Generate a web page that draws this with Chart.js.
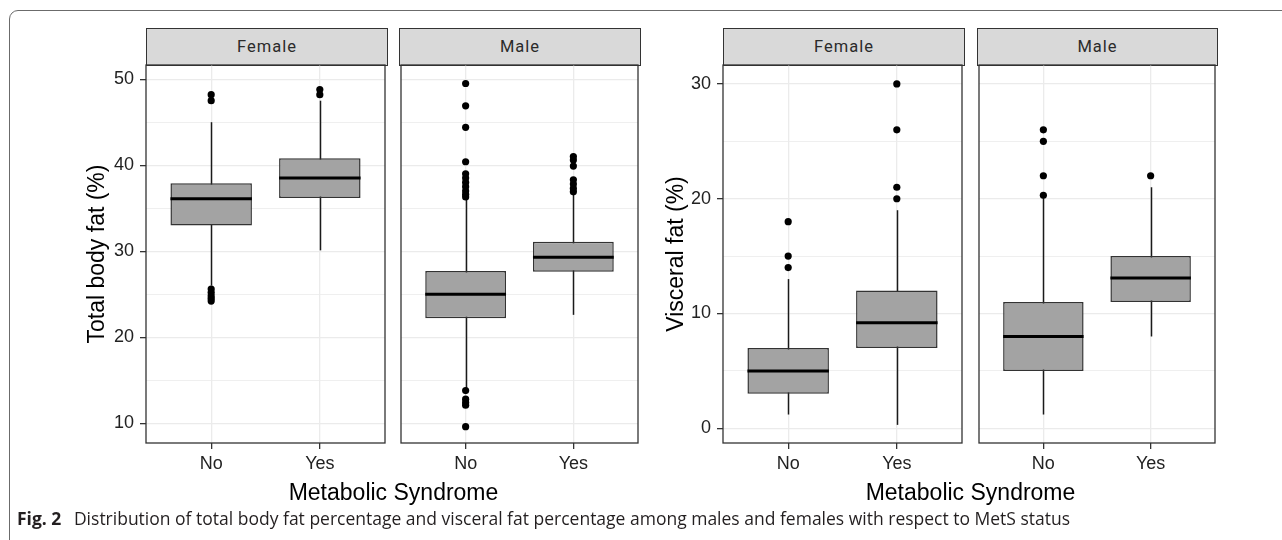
<!DOCTYPE html>
<html lang="en">
<head>
<meta charset="UTF-8">
<title>Fig. 2 - body fat by MetS status</title>
<script src="https://cdn.jsdelivr.net/npm/chart.js"></script>
<style>
    body { margin: 0; background: #fff; }
    #fig { position: relative; width: 1282px; height: 540px; overflow: hidden; background: #fff; font-family: "Liberation Sans", Arial, sans-serif; }
    .frame { position: absolute; left: 9px; top: 10px; width: 1400px; height: 600px; border: 1px solid #6b6b6b; border-radius: 9px; }
    .strip { position: absolute; top: 28px; height: 38px; box-sizing: border-box; background: #d9d9d9; border: 1px solid #333; color: #2b2b2b; font: 16.5px Roboto, sans-serif; letter-spacing: 1px; line-height: 36px; text-align: center; }
    canvas { position: absolute; top: 61px; }
    .xtitle { position: absolute; top: 480px; font-size: 23px; line-height: 24px; text-align: center; color: #000; }
    .caption { position: absolute; left: 17px; top: 506px; font: 17.5px "Open Sans", sans-serif; line-height: 24px; color: #231f20; white-space: nowrap; }
    .caption b { font-weight: 700; margin-right: 8px; }
</style>
</head>
<body>
<div id="fig">
    <div class="frame"></div>

    <div class="strip" style="left:146px;width:242px">Female</div>
    <div class="strip" style="left:399px;width:242px">Male</div>
    <div class="strip" style="left:723px;width:242px">Female</div>
    <div class="strip" style="left:977px;width:241px">Male</div>

    <canvas id="tbfFemale" width="309" height="422" style="left:80px"></canvas>
    <canvas id="tbfMale" width="245" height="422" style="left:397px"></canvas>
    <canvas id="vfFemale" width="307" height="422" style="left:659px"></canvas>
    <canvas id="vfMale" width="244" height="422" style="left:975px"></canvas>

    <div class="xtitle" style="left:146px;width:495px">Metabolic Syndrome</div>
    <div class="xtitle" style="left:723px;width:495px">Metabolic Syndrome</div>

    <div class="caption"><b>Fig. 2</b> Distribution of total body fat percentage and visceral fat percentage among males and females with respect to MetS status</div>
</div>

<script>
    const groups = ['No', 'Yes'];

    // five numbers per box: lower whisker, Q1, median, Q3, upper whisker
    // total body fat (%)
    const tbfFemaleNo = [26.0, 33.0, 36.1, 37.9, 45.0];
    const tbfFemaleYes = [30.1, 36.2, 38.5, 40.8, 47.5];
    const tbfMaleNo = [14.1, 22.2, 25.0, 27.7, 36.0];
    const tbfMaleYes = [22.6, 27.6, 29.3, 31.1, 36.6];
    const tbfFemaleNoOut = [48.2, 47.5, 25.6, 25.2, 24.8, 24.5, 24.2];
    const tbfFemaleYesOut = [48.8, 48.2];
    const tbfMaleNoOut = [49.5, 46.9, 44.4, 40.4, 39.0, 38.5, 38.0, 37.5, 37.0, 36.6, 36.3, 13.8, 12.8, 12.4, 12.1, 9.6];
    const tbfMaleYesOut = [41.0, 40.6, 39.9, 38.3, 37.8, 37.3, 36.9];

    // visceral fat (%)
    const vfFemaleNo = [1.2, 3.0, 5.0, 7.0, 13.0];
    const vfFemaleYes = [0.3, 7.0, 9.2, 12.0, 19.0];
    const vfMaleNo = [1.2, 5.0, 8.0, 11.0, 20.0];
    const vfMaleYes = [8.0, 11.0, 13.1, 15.0, 21.0];
    const vfFemaleNoOut = [18, 15, 14];
    const vfFemaleYesOut = [30, 26, 21, 20];
    const vfMaleNoOut = [26, 25, 22, 20.3];
    const vfMaleYesOut = [22];

    // axis ranges and ticks
    const tbfRange = [7.7, 51.65];
    const tbfMajor = [10, 20, 30, 40, 50];
    const tbfMinor = [15, 25, 35, 45];
    const vfRange = [-1.28, 31.65];
    const vfMajor = [0, 10, 20, 30];
    const vfMinor = [5, 15, 25];
    const xRange = [0.4, 2.6];

    // whiskers under the boxes, medians on top, frame around the panel
    const boxParts = {
        id: 'boxParts',
        beforeDatasetsDraw(chart) {
            const ctx = chart.ctx;
            const x = chart.scales.x, y = chart.scales.y;
            const stats = chart.data.datasets[0].stats;
            ctx.save();
            ctx.strokeStyle = '#1a1a1a';
            ctx.lineWidth = 1.5;
            stats.forEach((s, i) => {
                const px = Math.round(x.getPixelForValue(i + 1)) + 0.5;
                ctx.beginPath();
                ctx.moveTo(px, y.getPixelForValue(s[0]));
                ctx.lineTo(px, y.getPixelForValue(s[4]));
                ctx.stroke();
            });
            ctx.restore();
        },
        afterDatasetsDraw(chart) {
            const ctx = chart.ctx;
            const y = chart.scales.y;
            const stats = chart.data.datasets[0].stats;
            ctx.save();
            ctx.strokeStyle = '#000';
            ctx.lineWidth = 3;
            chart.getDatasetMeta(0).data.forEach((bar, i) => {
                const py = y.getPixelForValue(stats[i][2]);
                ctx.beginPath();
                ctx.moveTo(bar.x - bar.width / 2, py);
                ctx.lineTo(bar.x + bar.width / 2, py);
                ctx.stroke();
            });
            ctx.restore();
        },
        afterDraw(chart) {
            const a = chart.chartArea;
            const ctx = chart.ctx;
            ctx.save();
            ctx.strokeStyle = '#333';
            ctx.lineWidth = 1.3;
            ctx.strokeRect(a.left, a.top, a.right - a.left, a.bottom - a.top);
            ctx.restore();
        }
    };

    function drawPanel(id, boxes, outliers, range, major, minor, yTitle) {
        const withAxis = yTitle !== null;
        const points = [];
        outliers.forEach((vals, i) => vals.forEach(v => points.push({ x: i + 1, y: v })));

        new Chart(document.getElementById(id), {
            type: 'bar',
            data: {
                datasets: [{
                    type: 'bar',
                    data: boxes.map((s, i) => ({ x: i + 1, y: [s[1], s[3]] })),
                    stats: boxes,
                    backgroundColor: '#a3a3a3',
                    borderColor: '#333',
                    borderWidth: 1.5,
                    borderSkipped: false,
                    grouped: false,
                    barPercentage: 0.75,
                    categoryPercentage: 1,
                    order: 1
                }, {
                    type: 'scatter',
                    data: points,
                    pointRadius: 3.6,
                    pointBackgroundColor: '#000',
                    pointBorderWidth: 0,
                    order: 0
                }]
            },
            options: {
                responsive: false,
                animation: false,
                devicePixelRatio: 1,
                events: [],
                layout: { padding: { top: 4, right: 2, left: withAxis ? 0 : 2, bottom: 0 } },
                plugins: { legend: { display: false }, tooltip: { enabled: false } },
                scales: {
                    x: {
                        type: 'linear',
                        min: xRange[0],
                        max: xRange[1],
                        offset: false,
                        afterBuildTicks: s => { s.ticks = groups.map((g, i) => ({ value: i + 1 })); },
                        afterFit: s => { s.height = 40; s.paddingLeft = 0; s.paddingRight = 0; },
                        ticks: {
                            autoSkip: false,
                            maxRotation: 0,
                            padding: 4,
                            color: '#222',
                            font: { family: 'Liberation Sans', size: 18 },
                            callback: v => groups[v - 1]
                        },
                        grid: { offset: false, color: '#ebebeb', lineWidth: 1.3, tickColor: '#333', tickLength: 6, tickWidth: 1.3 },
                        border: { display: false }
                    },
                    y: {
                        type: 'linear',
                        min: range[0],
                        max: range[1],
                        bounds: 'data',
                        afterBuildTicks: s => { s.ticks = major.concat(minor).sort((a, b) => a - b).map(v => ({ value: v })); },
                        afterFit: s => {
                            s.width = withAxis ? (id === 'tbfFemale' ? 66 : 64) : 0;
                            s.paddingTop = 0;
                            s.paddingBottom = 0;
                        },
                        ticks: {
                            display: withAxis,
                            autoSkip: false,
                            padding: 6,
                            color: '#222',
                            font: { family: 'Liberation Sans', size: 18 },
                            callback: v => major.includes(v) ? v : ''
                        },
                        grid: {
                            drawTicks: withAxis,
                            tickLength: 6,
                            tickWidth: 1.3,
                            color: '#ebebeb',
                            lineWidth: c => (c.tick && major.includes(c.tick.value)) ? 1.3 : 0.8,
                            tickColor: c => (c.tick && major.includes(c.tick.value)) ? '#333' : 'rgba(0,0,0,0)'
                        },
                        border: { display: false },
                        title: {
                            display: withAxis,
                            text: yTitle || '',
                            color: '#000',
                            font: { family: 'Liberation Sans', size: 23 }
                        }
                    }
                }
            },
            plugins: [boxParts]
        });
    }

    drawPanel('tbfFemale', [tbfFemaleNo, tbfFemaleYes], [tbfFemaleNoOut, tbfFemaleYesOut], tbfRange, tbfMajor, tbfMinor, 'Total body fat (%)');
    drawPanel('tbfMale', [tbfMaleNo, tbfMaleYes], [tbfMaleNoOut, tbfMaleYesOut], tbfRange, tbfMajor, tbfMinor, null);
    drawPanel('vfFemale', [vfFemaleNo, vfFemaleYes], [vfFemaleNoOut, vfFemaleYesOut], vfRange, vfMajor, vfMinor, 'Visceral fat (%)');
    drawPanel('vfMale', [vfMaleNo, vfMaleYes], [vfMaleNoOut, vfMaleYesOut], vfRange, vfMajor, vfMinor, null);
</script>
</body>
</html>
